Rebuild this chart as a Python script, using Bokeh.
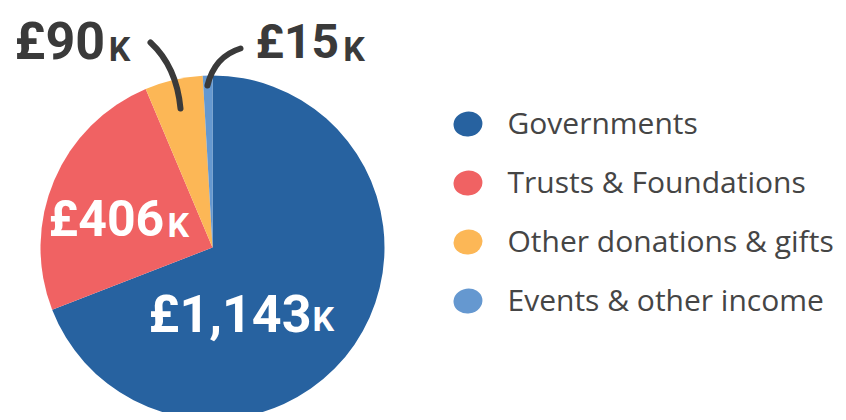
import numpy as np
from bokeh.plotting import figure
from bokeh.models import Range1d, ColumnDataSource
from bokeh.core.properties import value
from bokeh.embed import file_html
from bokeh.resources import INLINE

# ---- data ----
categories = ["Governments", "Trusts & Foundations", "Other donations & gifts", "Events & other income"]
values_k = [1143, 406, 90, 15]
colors = ["#2762a0", "#f06263", "#fcb756", "#6598d0"]

# ---- styling / layout (picture pixel coordinates) ----
W, H = 838, 412
def Y(py):
    return H - py

p = figure(width=W, height=H, x_range=Range1d(0, W), y_range=Range1d(0, H),
           output_backend="svg", toolbar_location=None, min_border=0,
           x_axis_location=None, y_axis_location=None)
p.grid.visible = False
p.outline_line_color = None
p.background_fill_color = "white"
p.border_fill_color = "white"

vals = np.array(values_k, dtype=float)
cum = np.concatenate([[0.0], np.cumsum(vals / vals.sum())])
src = ColumnDataSource(dict(
    start=np.pi / 2 - 2 * np.pi * cum[:-1],
    end=np.pi / 2 - 2 * np.pi * cum[1:],
    color=colors,
))
p.wedge(x=212, y=Y(247), radius=172, start_angle="start", end_angle="end",
        direction="clock", fill_color="color", line_color=None, source=src)

# legend
leg_font = 30
leg_y = [123.5 + 59 * i for i in range(len(categories))]
p.ellipse(x=467.5, y=[Y(v) for v in leg_y], width=29, height=25, angle=0.15,
          fill_color=colors, line_color=None)
p.text(x=507, y=[Y(v + 11.5 - 0.45 * leg_font) for v in leg_y], text=categories,
       text_font=value("Open Sans"), text_font_size=f"{leg_font}px", text_color="#454545",
       text_baseline="alphabetic", text_align="left")

# value labels: (x, baseline y, main size, k size, k baseline y, colour)
label_style = [
    (148, 334, 52, 34, 332, "white"),
    (48, 238, 50, 34, 238, "white"),
    (14, 61, 52, 34, 62, "#3a3a3a"),
    (255, 60, 48, 34, 62, "#3a3a3a"),
]
off = 0.39  # baseline correction (em)
for v, (lx, ly, s1, s2, ky, c) in zip(values_k, label_style):
    main = "£{:,}".format(v)
    p.text(x=[lx], y=[Y(ly - off * s1)], text=[main], text_font=value("Roboto"),
           text_font_style="bold", text_font_size=f"{s1}px", text_color=c,
           text_baseline="alphabetic", text_align="left")
    wmain = sum(0.22 if ch == "," else 0.56 for ch in main) * s1
    p.text(x=[lx + wmain + 7], y=[Y(ky - off * s2)], text=["K"], text_font=value("Roboto"),
           text_font_style="bold", text_font_size=f"{s2}px", text_color=c,
           text_baseline="alphabetic", text_align="left")

# connector strokes
p.quadratic(x0=[150, 240], y0=[Y(42), Y(48)], x1=[180, 207], y1=[Y(108), Y(85)],
            cx=[176, 214], cy=[Y(66), Y(56)], line_color="#3a3a3a", line_width=6,
            line_cap="round")

open("out.html", "w").write(file_html(p, INLINE))
